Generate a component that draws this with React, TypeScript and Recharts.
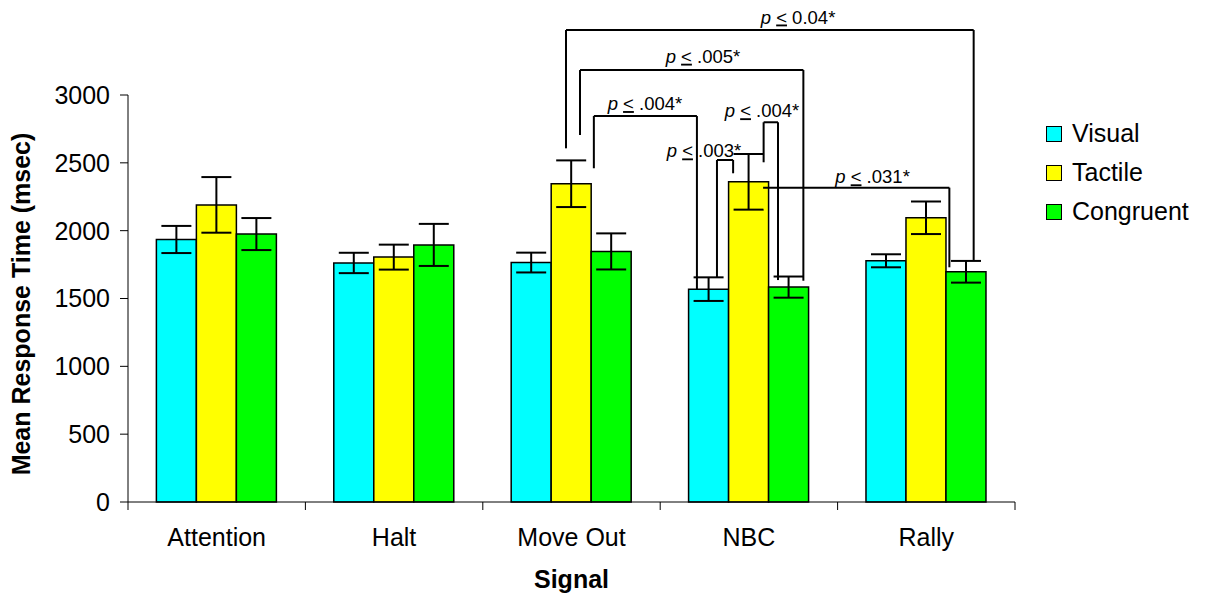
import React from 'react';
import {
  BarChart, Bar, XAxis, YAxis, ErrorBar, Legend, ReferenceLine, ReferenceDot, Label,
} from 'recharts';

const FONT = '"Liberation Sans", Arial, sans-serif';

const categories = ['Attention', 'Halt', 'Move Out', 'NBC', 'Rally'];
const visual = [1935, 1762, 1765, 1569, 1778];
const visualErr = [100, 75, 73, 87, 48];
const tactile = [2190, 1805, 2346, 2360, 2095];
const tactileErr = [205, 92, 172, 205, 120];
const congruent = [1975, 1895, 1847, 1584, 1697];
const congruentErr = [118, 155, 133, 78, 80];
const yTicks = [0, 500, 1000, 1500, 2000, 2500, 3000];

const series = [
  { key: 'visual', name: 'Visual', color: '#00FFFF' },
  { key: 'tactile', name: 'Tactile', color: '#FFFF00' },
  { key: 'congruent', name: 'Congruent', color: '#00FF00' },
];

// Significance brackets in data units (x: category position 0..5, y: msec)
// [xLeft, yLeftEnd, xRight, yRightEnd, yTop]
const brackets = [
  [2.469, 2607, 4.767, 1784, 3479],
  [2.548, 2705, 3.807, 1631, 3184],
  [2.626, 2460, 3.207, 1570, 2845],
  [3.320, 1653, 3.411, 2423, 2521],
  [3.583, 2504, 3.664, 1636, 2799],
  [3.580, 2317, 4.630, 1730, 2317],
];
// [x, y, text]
const pLabels: [number, number, string][] = [
  [3.777, 3527, '0.04*'],
  [3.241, 3238, '.005*'],
  [2.914, 2889, '.004*'],
  [3.247, 2540, '.003*'],
  [3.574, 2836, '.004*'],
  [4.197, 2349, '.031*'],
];

const numTicks = [0, 0.5, 1, 1.5, 2, 2.5, 3, 3.5, 4, 4.5, 5];

const data = categories.map((c, i) => ({
  category: c,
  visual: visual[i],
  visualErr: visualErr[i],
  tactile: tactile[i],
  tactileErr: tactileErr[i],
  congruent: congruent[i],
  congruentErr: congruentErr[i],
}));

const XTick = (props: any) => {
  const { x, y, payload } = props;
  const v = payload.value;
  if (Number.isInteger(v)) {
    return <line x1={x} y1={y} x2={x} y2={y + 8} stroke="#000" strokeWidth={1} />;
  }
  return (
    <text x={x} y={y + 44} textAnchor="middle" fontSize={25} fontFamily={FONT} fill="#000">
      {categories[Math.floor(v)]}
    </text>
  );
};

const PText = (props: any) => {
  const { cx, cy, text } = props;
  return (
    <text x={cx} y={cy} textAnchor="middle" fontSize={18.5} fontFamily={FONT} fill="#000">
      <tspan fontStyle="italic">p</tspan>
      {'\u00a0'}
      <tspan style={{ textDecoration: 'underline' }}>{'<'}</tspan>
      {'\u00a0' + text}
    </text>
  );
};

const LegendContent = () => (
  <div style={{ width: 160, fontFamily: FONT, fontSize: 25, color: '#000' }}>
    {series.map((s) => (
      <div key={s.key} style={{ height: 39, display: 'flex', alignItems: 'center', paddingLeft: 6 }}>
        <div style={{ width: 16, height: 16, boxSizing: 'border-box', border: '1.5px solid #000', background: s.color }} />
        <span style={{ marginLeft: 10, lineHeight: '25px' }}>{s.name}</span>
      </div>
    ))}
  </div>
);

const catPos = (d: any) => categories.indexOf(d.category) + 0.5;

export default function App() {
  return (
    <div style={{ position: 'absolute', left: 0, top: 0, width: 1208, height: 594, background: '#fff' }}>
      <BarChart
        width={1208}
        height={594}
        data={data}
        margin={{ top: 95, right: 33, bottom: 0, left: 48 }}
        barCategoryGap="16%"
        barGap={0}
      >
        <XAxis xAxisId="cat" dataKey="category" hide height={0} />
        <XAxis
          xAxisId="num"
          type="number"
          dataKey={catPos}
          domain={[0, 5]}
          allowDataOverflow
          ticks={numTicks}
          interval={0}
          height={92}
          tickLine={false}
          tickSize={0}
          tickMargin={0}
          axisLine={{ stroke: '#000', strokeWidth: 1 }}
          tick={<XTick />}
        >
          <Label
            content={(p: any) => {
              const vb = p.viewBox;
              return (
                <text x={vb.x + vb.width / 2} y={vb.y + 86} textAnchor="middle" fontSize={25} fontWeight="bold" fontFamily={FONT} fill="#000">
                  Signal
                </text>
              );
            }}
          />
        </XAxis>
        <YAxis
          width={80}
          domain={[0, 3000]}
          ticks={yTicks}
          interval={0}
          tickSize={8}
          tickMargin={10}
          axisLine={{ stroke: '#000', strokeWidth: 1 }}
          tickLine={{ stroke: '#000', strokeWidth: 1 }}
          tick={{ fill: '#000', fontSize: 25, fontFamily: FONT }}
        >
          <Label
            content={() => (
              <text
                x={29.5}
                y={304}
                transform="rotate(-90, 29.5, 304)"
                textAnchor="middle"
                fontSize={25}
                fontWeight="bold"
                fontFamily={FONT}
                fill="#000"
              >
                Mean Response Time (msec)
              </text>
            )}
          />
        </YAxis>
        <Legend
          layout="vertical"
          align="right"
          verticalAlign="middle"
          content={<LegendContent />}
          wrapperStyle={{ left: 1040, top: 114, width: 160 }}
        />
        {series.map((s) => (
          <Bar
            key={s.key}
            xAxisId="cat"
            dataKey={s.key}
            name={s.name}
            fill={s.color}
            stroke="#000"
            strokeWidth={1.5}
            isAnimationActive={false}
          >
            <ErrorBar dataKey={s.key + 'Err'} width={15} stroke="#000" strokeWidth={2} isAnimationActive={false} />
          </Bar>
        ))}
        {brackets.map((b, i) => {
          const [xl, yl, xr, yr, yt] = b;
          return [
            <ReferenceLine key={`l${i}`} xAxisId="num" ifOverflow="visible" stroke="#000" strokeWidth={2}
              segment={[{ x: xl, y: yl }, { x: xl, y: yt }]} />,
            <ReferenceLine key={`h${i}`} xAxisId="num" ifOverflow="visible" stroke="#000" strokeWidth={2}
              segment={[{ x: xl, y: yt }, { x: xr, y: yt }]} />,
            <ReferenceLine key={`r${i}`} xAxisId="num" ifOverflow="visible" stroke="#000" strokeWidth={2}
              segment={[{ x: xr, y: yt }, { x: xr, y: yr }]} />,
          ];
        })}
        {pLabels.map(([x, y, t], i) => (
          <ReferenceDot key={`p${i}`} xAxisId="num" x={x} y={y} r={0} ifOverflow="visible"
            shape={(props: any) => <PText cx={props.cx} cy={props.cy} text={t} />} />
        ))}
      </BarChart>
    </div>
  );
}
